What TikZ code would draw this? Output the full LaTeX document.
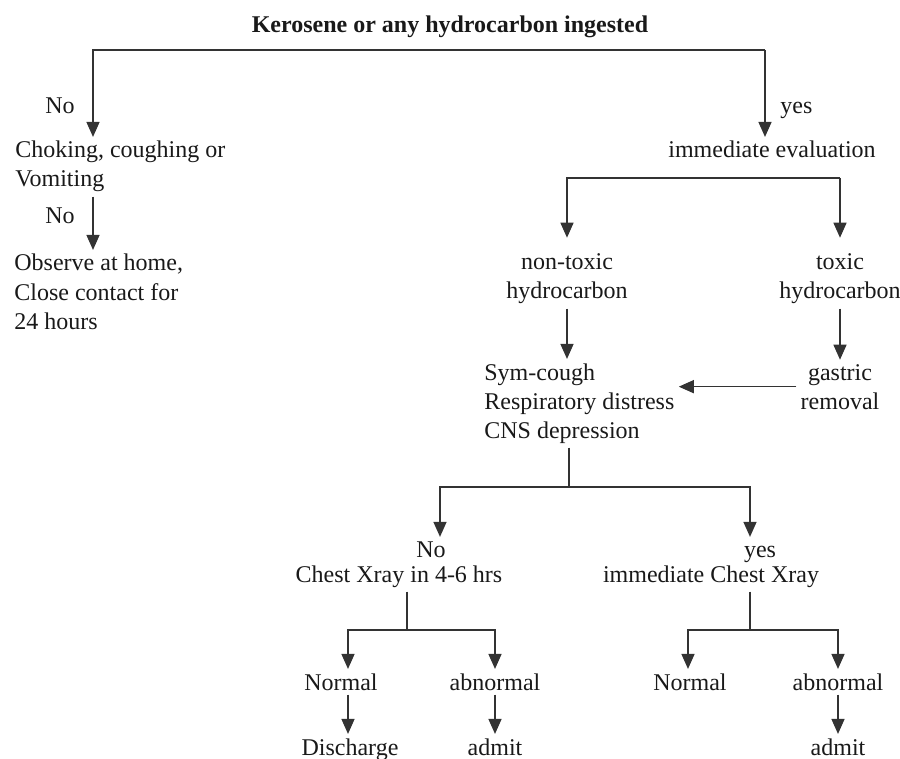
\documentclass[tikz,border=0pt]{standalone}
\usepackage{fontspec}
\setmainfont{Liberation Serif}
\usetikzlibrary{arrows.meta}

\begin{document}
\begin{tikzpicture}[
        x=0.5pt, y=-0.5pt,            % one unit per pixel, y downwards
        every node/.style={
            inner sep=2pt,            % small gap between text and arrows
            font=\fontsize{12}{14.5}\selectfont,
            text=black!90
        },
        ctr/.style={align=center, anchor=base},
        lft/.style={align=left, anchor=base west},
        line/.style={line width=0.7pt, draw=black!80},
        arrow/.style={line, -{Triangle[width=6.5pt,length=7.5pt]}}
    ]
        \useasboundingbox (0,0) rectangle (900,759);

        % nodes (multi-line ones are placed by their last line)
        \node (title) [ctr, font=\fontsize{12}{14.5}\selectfont\bfseries] at (450,33) {Kerosene or any hydrocarbon ingested};
        \node (noA) [anchor=base east] at (79,114) {No};
        \node (choke) [lft] at (11,187) {Choking, coughing or\\Vomiting};
        \node (noA2) [anchor=base east] at (79,224) {No};
        \node (home) [lft] at (10,329) {Observe at home,\\Close contact for\\24 hours};
        \node (yesA) [anchor=base west] at (776,114) {yes};
        \node (evalN) [ctr] at (772,158) {immediate evaluation};
        \node (nontox) [ctr] at (567,299) {non-toxic\\hydrocarbon};
        \node (tox) [ctr] at (840,299) {toxic\\hydrocarbon};
        \node (sym) [lft] at (480,438) {Sym-cough\\Respiratory distress\\CNS depression};
        \node (gastric) [ctr] at (840,409) {gastric\\removal};
        \node (noB) [ctr] at (431,557) {No};
        \node (xrayA) [ctr] at (399,582) {Chest Xray in 4-6 hrs};
        \node (yesB) [ctr] at (760,557) {yes};
        \node (xrayB) [ctr] at (711,582) {immediate Chest Xray};
        \node (normA) [ctr] at (341,690) {Normal};
        \node (abnA) [ctr] at (495,690) {abnormal};
        \node (normB) [ctr] at (690,690) {Normal};
        \node (abnB) [ctr] at (838,690) {abnormal};
        \node (disA) [ctr] at (350,755) {Discharge};
        \node (admA) [ctr] at (495,755) {admit};
        \node (admB) [ctr] at (838,755) {admit};

        % junctions
        \coordinate (tl) at (93,50);
        \coordinate (tr) at (765,50);
        \coordinate (b1) at (567,178);
        \coordinate (b2) at (840,178);
        \coordinate (m) at (569,487);
        \coordinate (m1) at (440,487);
        \coordinate (m2) at (750,487);
        \coordinate (j1) at (407,630);
        \coordinate (j1a) at (348,630);
        \coordinate (j1b) at (495,630);
        \coordinate (j2) at (750,630);
        \coordinate (j2a) at (688,630);
        \coordinate (j2b) at (838,630);

        % edges
        \draw[arrow] (tr) -- (tl) -- (tl |- choke.north);
        \draw[arrow] (choke.south -| tl) -- (home.north -| tl);
        \draw[arrow] (tr) -- (tr |- evalN.north);
        \draw[arrow, shorten >=6pt] (b2) -- (b1) -- (nontox);
        \draw[arrow, shorten >=6pt] (b2) -- (tox);
        \draw[arrow] (nontox.south) -- (nontox.south |- sym.north);
        \draw[arrow] (tox) -- (gastric);
        \draw[arrow] (gastric.west) -- (gastric.west -| sym.east);
        \draw[line] (sym.south -| m) -- (m);
        \draw[arrow] (m) -- (m1) -- (m1 |- noB.north);
        \draw[arrow] (m) -- (m2) -- (m2 |- noB.north);
        \draw[line] (xrayA.south -| j1) -- (j1);
        \draw[arrow] (j1) -- (j1a) -- (j1a |- normA.north);
        \draw[arrow] (j1) -- (j1b) -- (abnA);
        \draw[line] (xrayB.south -| j2) -- (j2);
        \draw[arrow] (j2) -- (j2a) -- (j2a |- normB.north);
        \draw[arrow] (j2) -- (j2b) -- (abnB);
        \draw[arrow] (normA.south -| j1a) -- (disA.north -| j1a);
        \draw[arrow] (abnA) -- (admA);
        \draw[arrow] (abnB) -- (admB);
    \end{tikzpicture}
\end{document}
